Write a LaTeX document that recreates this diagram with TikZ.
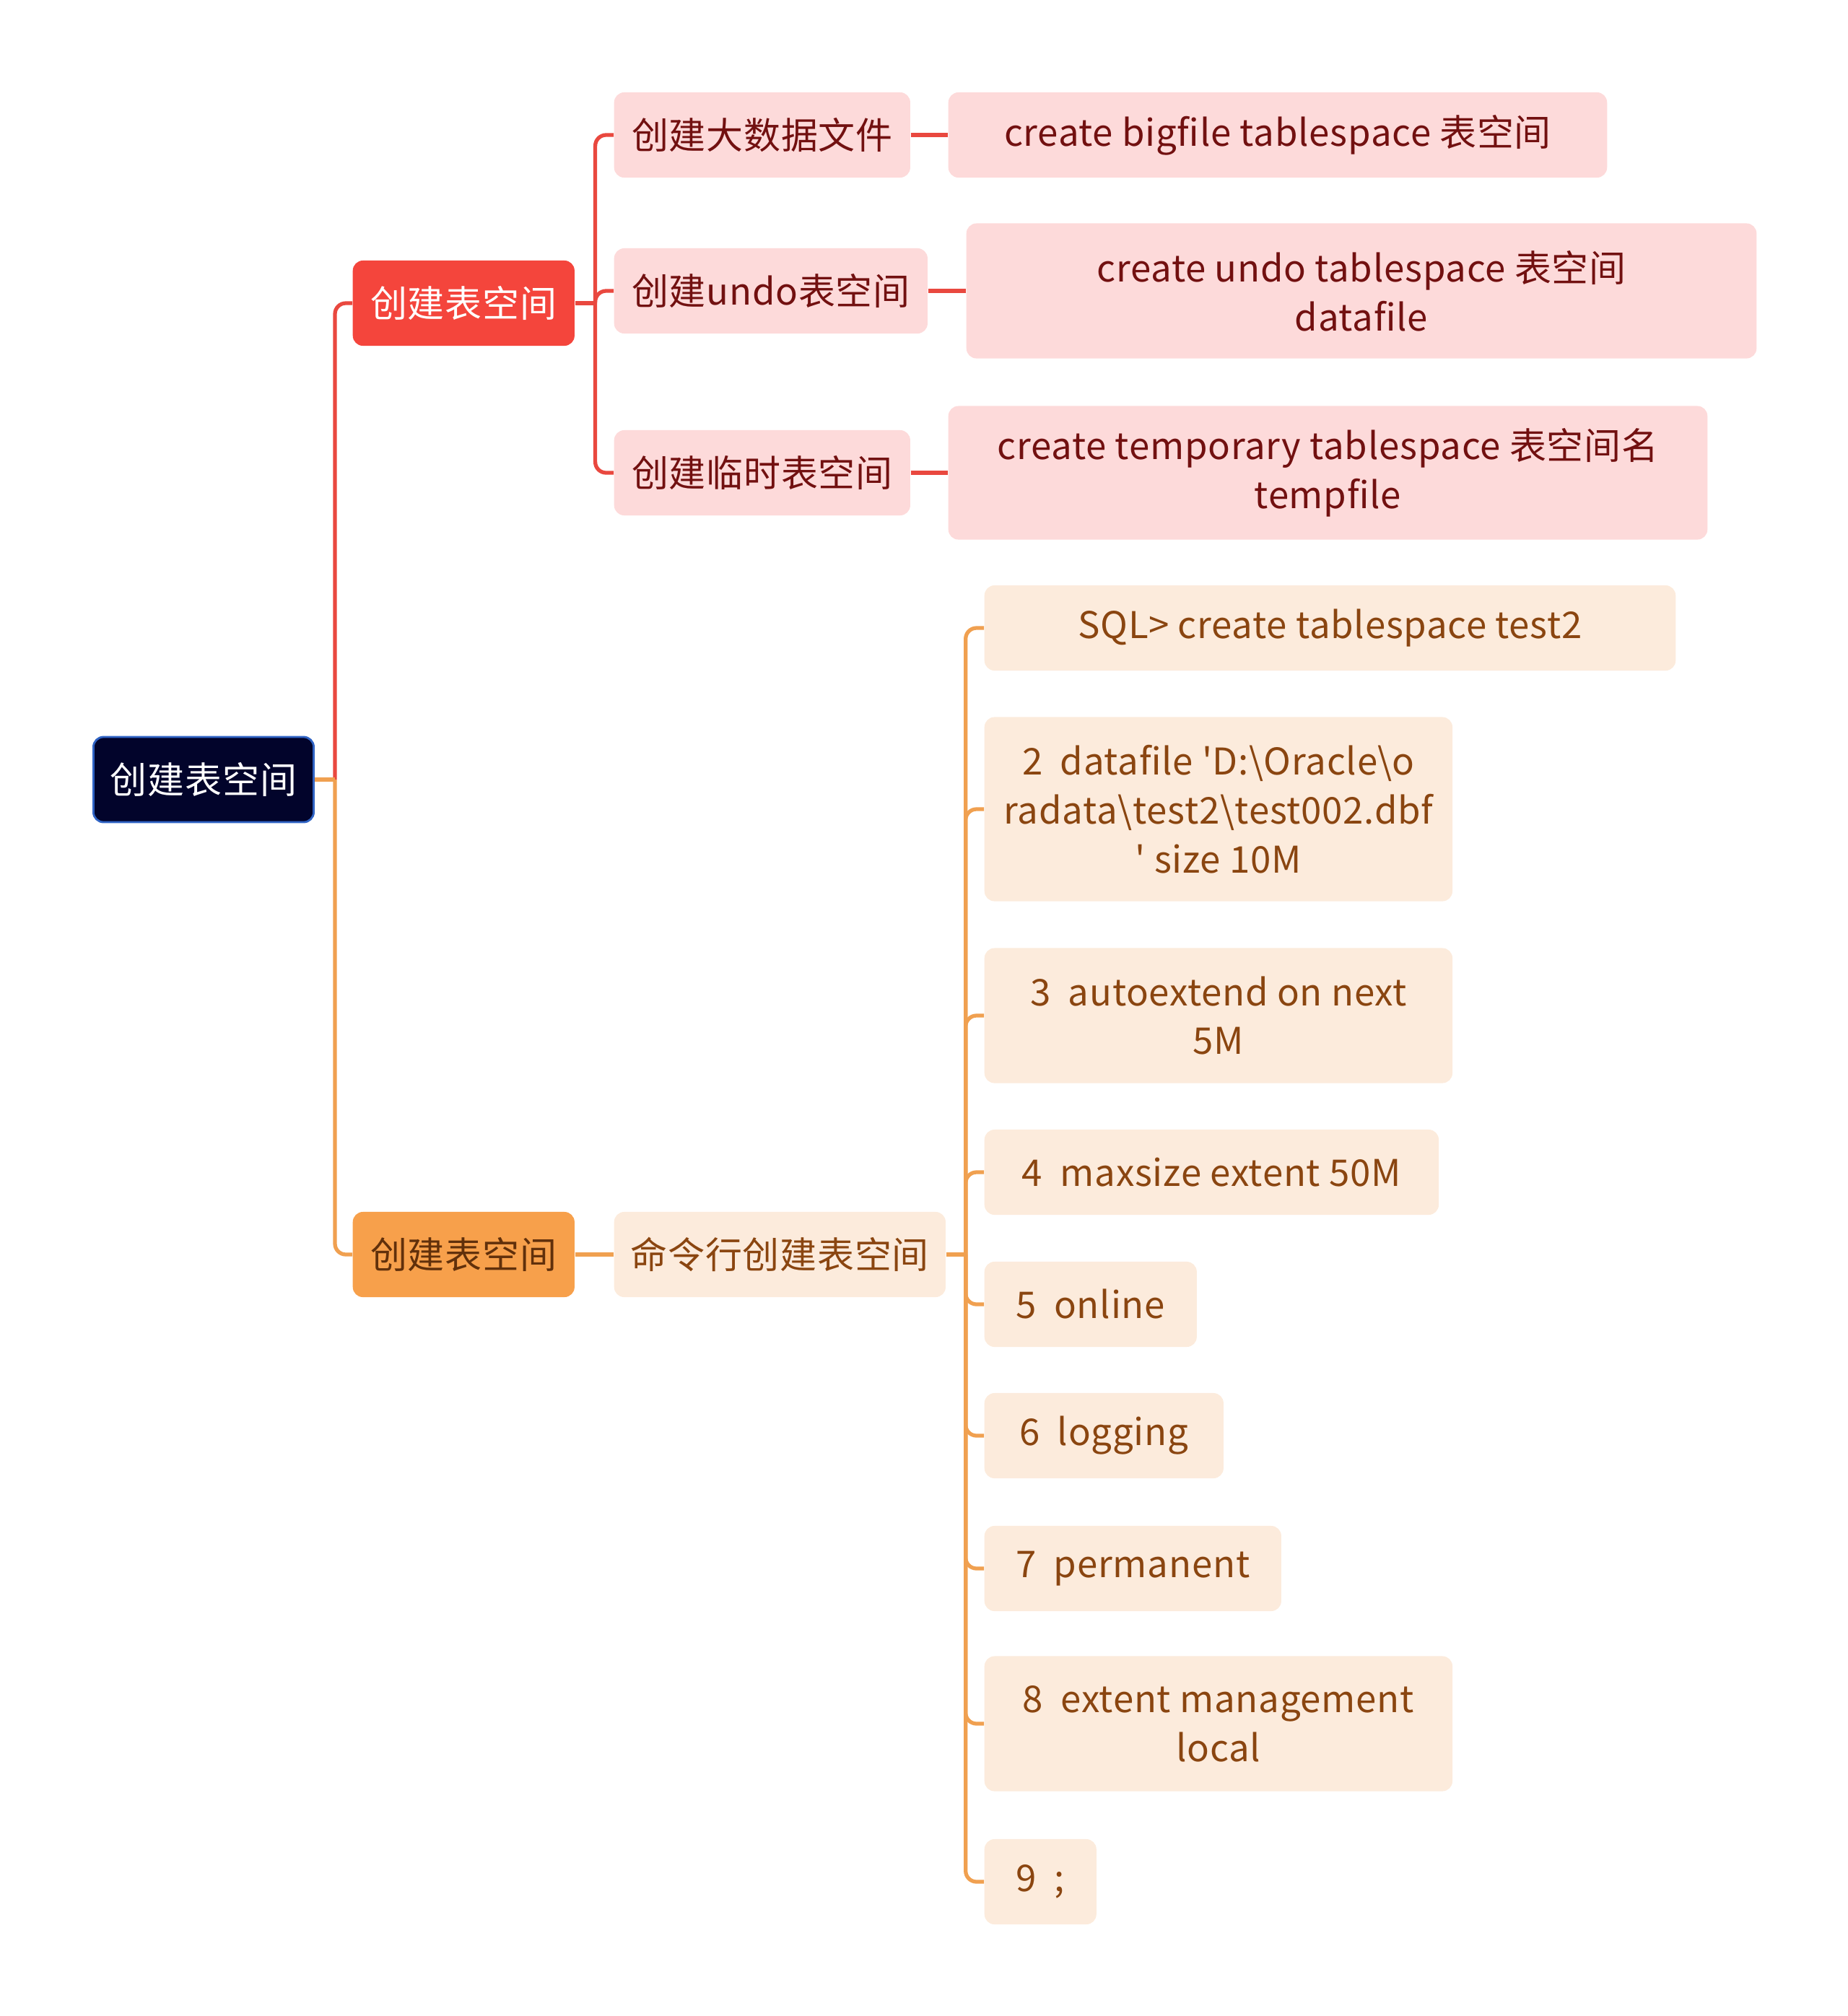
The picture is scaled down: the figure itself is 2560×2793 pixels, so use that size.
\documentclass[tikz,border=0pt]{standalone}
\usepackage{fontspec}
\setmainfont{Noto Sans CJK SC}[LetterSpace=1.5]
\usepackage{xcolor}
\usepackage{tikz}
\definecolor{rootfill}{HTML}{02042B}
\definecolor{rootline}{HTML}{2F63C4}
\definecolor{redfill}{HTML}{F4453C}
\definecolor{redline}{HTML}{E9483F}
\definecolor{pinkfill}{HTML}{FDDADA}
\definecolor{pinktext}{HTML}{721010}
\definecolor{orfill}{HTML}{F7A04B}
\definecolor{orline}{HTML}{F0A050}
\definecolor{peachfill}{HTML}{FCEBDC}
\definecolor{browntext}{HTML}{8A4510}

\begin{document}
\begin{tikzpicture}[x=0.01cm, y=-0.01cm,
    box/.style={anchor=west, rounded corners=0.14cm, inner sep=0pt, align=center,
      minimum height=1.18cm, font=\fontsize{14.5}{19.3}\selectfont},
    rootbox/.style={box, fill=rootfill, draw=rootline, line width=0.8pt, text=white},
    redbox/.style={box, fill=redfill, text=white, minimum width=3.07cm},
    orbox/.style={box, fill=orfill, text=browntext!70!black, minimum width=3.07cm},
    pinkbox/.style={box, fill=pinkfill, text=pinktext},
    peachbox/.style={box, fill=peachfill, text=browntext},
    redlink/.style={draw=redline, line width=1.5pt, rounded corners=0.15cm},
    orlink/.style={draw=orline, line width=1.5pt, rounded corners=0.15cm}]
    \useasboundingbox (0,0) rectangle (2560,2793);

    \node[rootbox, minimum width=3.05cm] (root) at (128,1080) {创建表空间};
    \node[redbox] (tbs) at (488,420) {创建表空间};
    \node[orbox] (cli) at (488,1738) {创建表空间};

    % red branch
    \node[pinkbox, minimum width=4.10cm] (big) at (850,187) {创建大数据文件};
    \node[pinkbox, minimum width=4.34cm] (undo) at (850,403) {创建undo表空间};
    \node[pinkbox, minimum width=4.10cm] (temp) at (850,655) {创建临时表空间};
    \node[pinkbox, minimum width=9.12cm] (bigsql) at (1313,187) {create bigfile tablespace 表空间};
    \node[pinkbox, minimum width=10.94cm, minimum height=1.87cm] (undosql) at (1338,403) {create undo tablespace 表空间\\datafile};
    \node[pinkbox, minimum width=10.51cm, minimum height=1.85cm] (tempsql) at (1313,655) {create temporary tablespace 表空间名\\tempfile};

    % orange branch
    \node[peachbox, minimum width=4.59cm] (cmd) at (850,1738) {命令行创建表空间};
    \node[peachbox, minimum width=9.57cm] (s1) at (1363,870) {SQL> create tablespace test2};
    \node[peachbox, minimum width=6.48cm, minimum height=2.55cm] (s2) at (1363,1121)
      {2~~datafile \textquotesingle D:\textbackslash Oracle\textbackslash o\\radata\textbackslash test2\textbackslash test002.dbf\\\textquotesingle{} size 10M};
    \node[peachbox, minimum width=6.48cm, minimum height=1.87cm] (s3) at (1363,1407) {3~~autoextend on next\\5M};
    \node[peachbox, minimum width=6.29cm] (s4) at (1363,1624) {4~~maxsize extent 50M};
    \node[peachbox, minimum width=2.94cm] (s5) at (1363,1807) {5~~online};
    \node[peachbox, minimum width=3.31cm] (s6) at (1363,1989) {6~~logging};
    \node[peachbox, minimum width=4.11cm] (s7) at (1363,2173) {7~~permanent};
    \node[peachbox, minimum width=6.48cm, minimum height=1.87cm] (s8) at (1363,2388) {8~~extent management\\local};
    \node[peachbox, minimum width=1.55cm] (s9) at (1363,2607) {9~~;};

    % connectors
    \coordinate (j0) at ([xshift=0.28cm]root.east);
    \coordinate (j1) at ([xshift=0.28cm]tbs.east);
    \coordinate (j2) at ([xshift=0.27cm]cmd.east);
    \draw[redlink] (j0) |- (tbs.west);
    \draw[orlink] (j0) |- (cli.west);
    \draw[orlink] (root.east) -- (j0);
    \draw[redlink] (tbs.east) -- (j1);
    \foreach \n in {big,undo,temp} { \draw[redlink] (j1) |- (\n.west); }
    \draw[redlink] (big.east) -- (bigsql.west);
    \draw[redlink] (undo.east) -- (undosql.west);
    \draw[redlink] (temp.east) -- (tempsql.west);
    \draw[orlink] (cli.east) -- (cmd.west);
    \draw[orlink] (cmd.east) -- (j2);
    \foreach \n in {s1,s2,s3,s4,s5,s6,s7,s8,s9} { \draw[orlink] (j2) |- (\n.west); }
\end{tikzpicture}
\end{document}
